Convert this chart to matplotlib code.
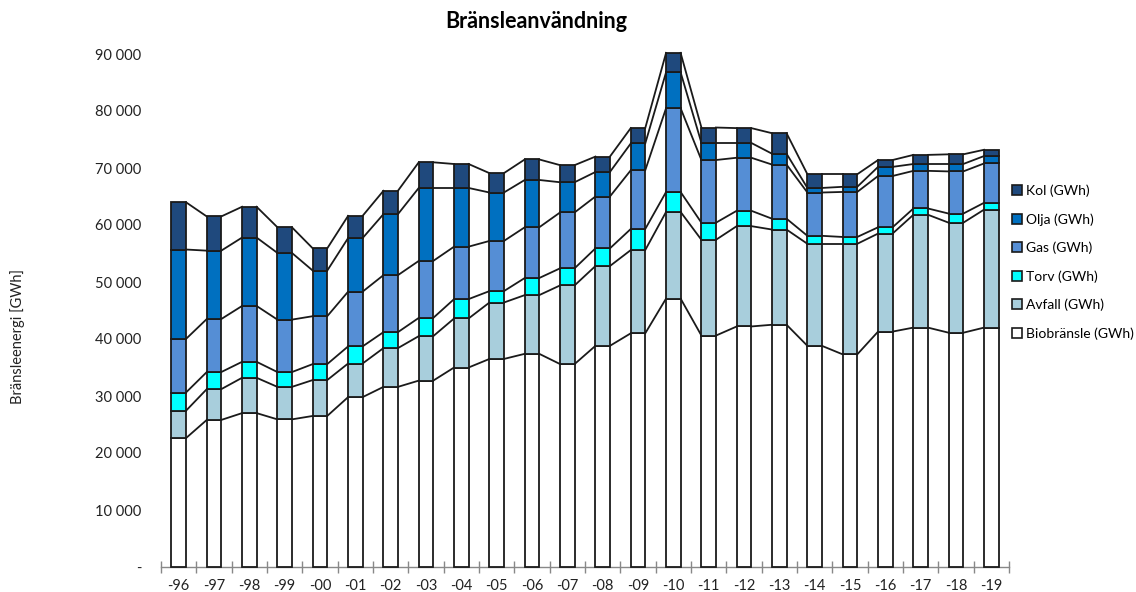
import numpy as np
import matplotlib
matplotlib.use("Agg")
import matplotlib.pyplot as plt
from matplotlib.ticker import FuncFormatter
from matplotlib.patches import Patch

plt.rcParams["font.family"] = ["Lato", "DejaVu Sans"]

# Years (x-axis labels)
years = ["-96", "-97", "-98", "-99", "-00", "-01", "-02", "-03", "-04", "-05", "-06", "-07",
         "-08", "-09", "-10", "-11", "-12", "-13", "-14", "-15", "-16", "-17", "-18", "-19"]

# Fuel use per year, GWh
biobransle = [22600, 25800, 27000, 25900, 26500, 29800, 31600, 32700, 35000, 36500, 37400, 35600,
              38800, 41000, 47100, 40600, 42200, 42500, 38800, 37300, 41300, 42000, 41100, 42000]
avfall = [4800, 5400, 6200, 5700, 6300, 5900, 6800, 7800, 8600, 9900, 10300, 13800,
          14000, 14600, 15200, 16800, 17600, 16700, 17900, 19400, 17200, 19800, 19300, 20700]
torv = [3200, 3000, 2800, 2600, 2800, 3000, 2800, 3200, 3400, 2000, 3000, 3000,
        3100, 3700, 3500, 3000, 2700, 1900, 1400, 1200, 1100, 1100, 1600, 1200]
gas = [9400, 9300, 9800, 9200, 8400, 9600, 10000, 10000, 9200, 8800, 8900, 9800,
       9100, 10300, 14700, 11000, 9300, 9500, 7600, 7900, 9000, 6600, 7400, 6900]
olja = [15700, 12000, 12000, 11700, 8000, 9400, 10700, 12800, 10300, 8500, 8300, 5300,
        4300, 4700, 6300, 3000, 2600, 1900, 800, 900, 1600, 1200, 1300, 1300]
kol = [8300, 6000, 5400, 4500, 3900, 3900, 4100, 4500, 4200, 3400, 3600, 3000,
       2700, 2700, 3400, 2700, 2600, 3600, 2400, 2200, 1200, 1600, 1700, 1100]

series = [
    ("Biobränsle (GWh)", biobransle, "#FFFFFF"),
    ("Avfall (GWh)", avfall, "#A8CEDC"),
    ("Torv (GWh)", torv, "#00FFFF"),
    ("Gas (GWh)", gas, "#558ED5"),
    ("Olja (GWh)", olja, "#0070C0"),
    ("Kol (GWh)", kol, "#1F497D"),
]

fig = plt.figure(figsize=(11.36, 5.92), dpi=100)
ax = fig.add_axes([161 / 1136, 1 - 567 / 592, (1009 - 161) / 1136, (567 - 54) / 592])

x = np.arange(len(years))
w = 0.41
bottom = np.zeros(len(years))
for name, vals, col in series:
    vals = np.array(vals, dtype=float)
    ax.bar(x, vals, w, bottom=bottom, color=col, edgecolor="#1a1a1a", linewidth=1.3,
           label=name, clip_on=False, zorder=3)
    bottom = bottom + vals
    # series lines between neighbouring bars
    for i in range(len(years) - 1):
        ax.plot([x[i] + w / 2, x[i + 1] - w / 2], [bottom[i], bottom[i + 1]],
                color="#1a1a1a", linewidth=1.3, clip_on=False, zorder=2)

ax.set_xlim(-0.5, len(years) - 0.5)
ax.set_ylim(0, 90000)

ax.set_yticks(np.arange(0, 90001, 10000))
ax.yaxis.set_major_formatter(FuncFormatter(
    lambda v, p: "-" if v == 0 else "{:,.0f}".format(v).replace(",", " ")))
ax.tick_params(axis="y", length=0, pad=14, labelsize=10.5, labelcolor="#222222")

ax.set_xticks(x)
ax.set_xticklabels(years)
ax.set_xticks(np.arange(-0.5, len(years), 1), minor=True)
ax.tick_params(axis="x", which="major", length=0, pad=9, labelsize=10.5, labelcolor="#222222")
ax.tick_params(axis="x", which="minor", length=8, direction="inout", color="#888888", width=1)

for s in ["top", "right", "left"]:
    ax.spines[s].set_visible(False)
ax.spines["bottom"].set_color("#888888")
ax.spines["bottom"].set_linewidth(1)

fig.text(536 / 1136, 1 - 22 / 592, "Bränsleanvändning", ha="center", va="center",
         fontsize=15.5, fontweight="bold")
fig.text(18 / 1136, 1 - 336 / 592, "Bränsleenergi [GWh]", rotation=90, ha="center",
         va="center", fontsize=10.5, color="#222222")

handles = [Patch(facecolor=col, edgecolor="#1a1a1a", linewidth=1.2, label=name)
           for name, vals, col in series[::-1]]
fig.legend(handles=handles, loc="upper left", bbox_to_anchor=(1006 / 1136, 1 - 179 / 592),
           frameon=False, fontsize=10, handlelength=0.75, handleheight=0.75,
           handletextpad=0.3, labelspacing=1.15, borderaxespad=0)

fig.savefig("out.png", dpi=100)
